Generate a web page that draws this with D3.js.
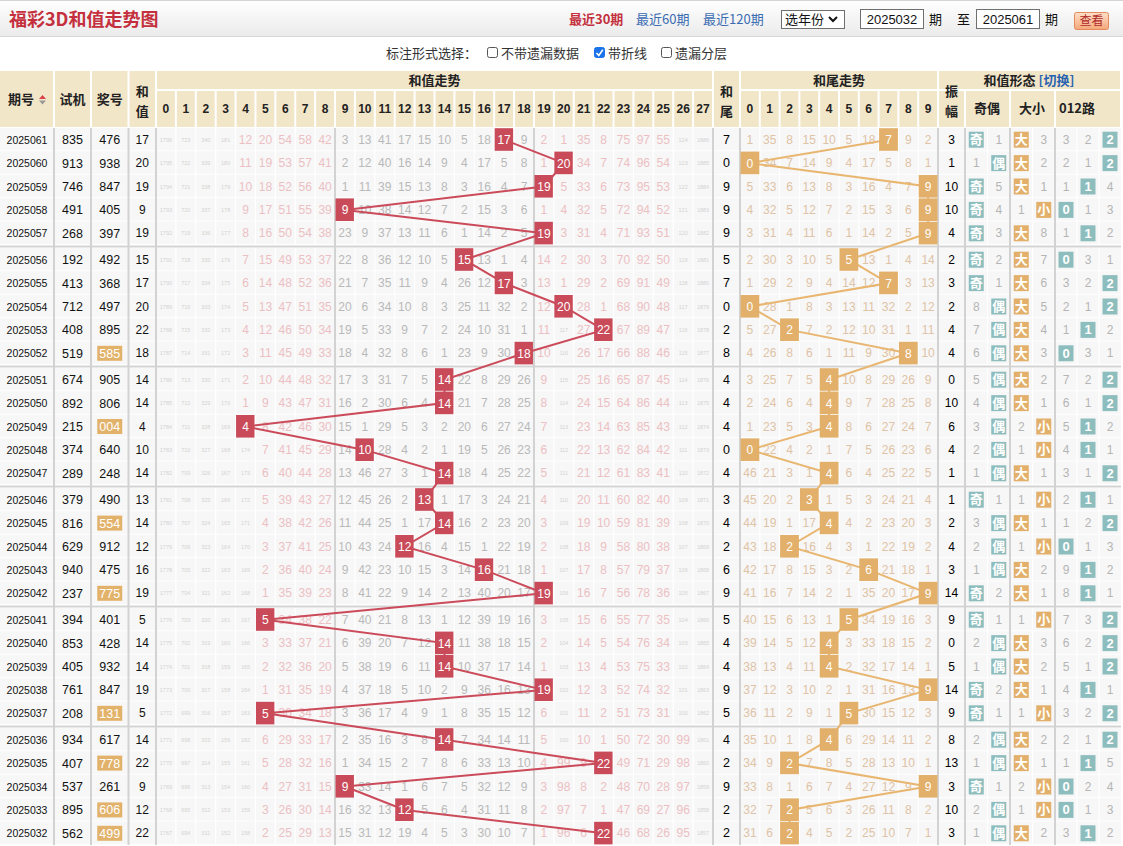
<!DOCTYPE html>
<html><head><meta charset="utf-8">
<script src="https://cdn.jsdelivr.net/npm/d3@7"></script>
<style>body{margin:0;background:#fff}svg{display:block}</style>
</head><body><svg id="c" width="1123" height="846"></svg>
<script>
// ---------------- data ----------------
const periods = ['2025061','2025060','2025059','2025058','2025057','2025056','2025055','2025054','2025053','2025052',
 '2025051','2025050','2025049','2025048','2025047','2025046','2025045','2025044','2025043','2025042',
 '2025041','2025040','2025039','2025038','2025037','2025036','2025035','2025034','2025033','2025032'];
const trialNums = ['835','913','746','491','268','192','413','712','408','519','674','892','215','374','289',
 '379','816','629','940','237','394','853','405','761','208','934','407','537','895','562'];
const drawNums = ['476','938','847','405','397','492','368','497','895','585','905','806','004','640','248',
 '490','554','912','475','775','401','428','932','847','131','617','778','261','606','499'];
const sumValues = [17,20,19,9,19,15,17,20,22,18,14,14,4,10,14,13,14,12,16,19,5,14,14,19,5,14,22,9,12,22];
const tailValues = [7,0,9,9,9,5,7,0,2,8,4,4,4,0,4,3,4,2,6,9,5,4,4,9,5,4,2,9,2,2];
const amplitudes = [3,1,10,10,4,2,3,2,4,4,0,10,6,4,1,1,2,4,3,14,9,0,5,14,9,8,13,3,10,3];
// omission counts shown on the oldest row (2025032)
const sumMissBase = [1767,694,311,152,158,2,25,29,13,15,31,12,19,4,5,3,30,10,7,1,96,6,0,46,68,26,95,1857];
const tailMissBase = [31,6,0,4,5,2,25,10,7,1];
const parityBase = [1,0];
const sizeBase = [0,2];
const modBase = [3,0,2];
const sumTicks = ['0','1','2','3','4','5','6','7','8','9','10','11','12','13','14','15','16','17','18','19','20','21','22','23','24','25','26','27'];
const tailTicks = ['0','1','2','3','4','5','6','7','8','9'];
const parityLabels = ['奇','偶'];
const sizeLabels = ['大','小'];
const modLabels = ['0','1','2'];

// ---------------- helpers ----------------
const W = 1123, H = 846, N = periods.length;
const CJK = "'Noto Sans CJK SC','Noto Sans',sans-serif";
const NUM = "'Liberation Sans',Arial,sans-serif";
const svg = d3.select('#c');

function txt(p, x, y, s, o = {}) {
  return p.append('text').attr('x', x).attr('y', y).text(s)
    .attr('font-family', o.ff || NUM).attr('font-size', o.fs || 12)
    .attr('font-weight', o.fw || 'normal').attr('fill', o.fill || '#111')
    .attr('text-anchor', o.anchor || 'middle');
}

// omission matrix: rows top (newest) -> bottom (oldest)
function omissions(base, hits) {
  const rows = new Array(N);
  rows[N - 1] = base.slice();
  for (let i = N - 2; i >= 0; i--) rows[i] = rows[i + 1].map((v, k) => k === hits[i] ? 0 : v + 1);
  return rows;
}
const sumMiss = omissions(sumMissBase, sumValues);
const tailMiss = omissions(tailMissBase, tailValues);
const parityHit = sumValues.map(s => s % 2 === 1 ? 0 : 1);
const sizeHit = sumValues.map(s => s >= 14 ? 0 : 1);
const modHit = sumValues.map(s => s % 3);
const parityMiss = omissions(parityBase, parityHit);
const sizeMiss = omissions(sizeBase, sizeHit);
const modMiss = omissions(modBase, modHit);

// ---------------- scales ----------------
const rowBand = d3.scaleBand().domain(d3.range(N)).range([128, 128 + N * 23.4]);
const rowTop = i => rowBand(i) + Math.floor(i / 5) * 3;
const rowMid = i => rowTop(i) + rowBand.bandwidth() / 2;
const xSum = d3.scaleBand().domain(sumTicks).range([156, 713]);
const xTail = d3.scaleBand().domain(tailTicks).range([740, 938]);
const xPar = d3.scaleBand().domain(parityLabels).range([965, 1010]);
const xSize = d3.scaleBand().domain(sizeLabels).range([1010, 1055]);
const xMod = d3.scaleBand().domain(modLabels).range([1055, 1121]);
const colFixed = {period: [0, 54], trial: [54, 91], draw: [91, 128.5], sum: [128.5, 156], tail: [713, 740], amp: [938, 965]};
const mid = a => (a[0] + a[1]) / 2;

// ---------------- title bar ----------------
const defs = svg.append('defs');
const tb = defs.append('linearGradient').attr('id', 'tb').attr('x1', 0).attr('y1', 0).attr('x2', 0).attr('y2', 1);
tb.append('stop').attr('offset', '0%').attr('stop-color', '#ffffff');
tb.append('stop').attr('offset', '100%').attr('stop-color', '#ebebeb');
const bt = defs.append('linearGradient').attr('id', 'bt').attr('x1', 0).attr('y1', 0).attr('x2', 0).attr('y2', 1);
bt.append('stop').attr('offset', '0%').attr('stop-color', '#fde0c8');
bt.append('stop').attr('offset', '100%').attr('stop-color', '#f5a77a');
svg.append('rect').attr('x', 0).attr('y', 0).attr('width', W).attr('height', 36).attr('fill', 'url(#tb)');
svg.append('line').attr('x1', 0).attr('x2', W).attr('y1', 0.5).attr('y2', 0.5).attr('stroke', '#d4d4d4');
svg.append('line').attr('x1', 0).attr('x2', W).attr('y1', 36.5).attr('y2', 36.5).attr('stroke', '#d6d6d6');
txt(svg, 9, 26, '福彩3D和值走势图', {ff: CJK, fs: 18, fw: 'bold', fill: '#c4303d', anchor: 'start'});
txt(svg, 569, 24, '最近30期', {ff: CJK, fs: 13, fw: 'bold', fill: '#c4303d', anchor: 'start'});
txt(svg, 636, 24, '最近60期', {ff: CJK, fs: 13, fill: '#3a6cb2', anchor: 'start'});
txt(svg, 703, 24, '最近120期', {ff: CJK, fs: 13, fill: '#3a6cb2', anchor: 'start'});
svg.append('rect').attr('x', 781.5).attr('y', 10.5).attr('width', 63).attr('height', 18).attr('fill', '#fff').attr('stroke', '#6f6f6f');
txt(svg, 785, 24, '选年份', {ff: CJK, fs: 13, anchor: 'start'});
svg.append('path').attr('d', 'M829,17 L833,21 L837,17').attr('fill', 'none').attr('stroke', '#111').attr('stroke-width', 2);
svg.append('rect').attr('x', 860.5).attr('y', 9.5).attr('width', 63).attr('height', 19).attr('fill', '#fff').attr('stroke', '#6f6f6f');
txt(svg, 892, 24, '2025032', {fs: 13});
txt(svg, 929, 24, '期', {ff: CJK, fs: 13, anchor: 'start'});
txt(svg, 957, 24, '至', {ff: CJK, fs: 13, anchor: 'start'});
svg.append('rect').attr('x', 976.5).attr('y', 9.5).attr('width', 63).attr('height', 19).attr('fill', '#fff').attr('stroke', '#6f6f6f');
txt(svg, 1008, 24, '2025061', {fs: 13});
txt(svg, 1045, 24, '期', {ff: CJK, fs: 13, anchor: 'start'});
svg.append('rect').attr('x', 1074.5).attr('y', 12.5).attr('width', 34).attr('height', 17).attr('rx', 2).attr('fill', 'url(#bt)').attr('stroke', '#e48a5c');
txt(svg, 1091.5, 25, '查看', {ff: CJK, fs: 12, fill: '#b02a2a'});

// ---------------- options bar ----------------
txt(svg, 386, 58, '标注形式选择：', {ff: CJK, fs: 13, fill: '#333', anchor: 'start'});
function checkbox(x, checked) {
  svg.append('rect').attr('x', x + 0.5).attr('y', 47.5).attr('width', 10).attr('height', 10).attr('rx', 2)
    .attr('fill', checked ? '#1a73e8' : '#fff').attr('stroke', checked ? '#1a73e8' : '#555');
  if (checked) svg.append('path').attr('d', `M${x + 2.5},53 L${x + 4.8},55.5 L${x + 8.8},49.8`).attr('fill', 'none').attr('stroke', '#fff').attr('stroke-width', 1.6);
}
checkbox(487, false); txt(svg, 501, 58, '不带遗漏数据', {ff: CJK, fs: 13, fill: '#333', anchor: 'start'});
checkbox(594, true); txt(svg, 608, 58, '带折线', {ff: CJK, fs: 13, fill: '#333', anchor: 'start'});
checkbox(661, false); txt(svg, 675, 58, '遗漏分层', {ff: CJK, fs: 13, fill: '#333', anchor: 'start'});

// ---------------- header ----------------
const HB = '#f2e6c9';
const hdr = svg.append('g');
function hcell(x0, x1, y0, y1) {
  hdr.append('rect').attr('x', x0 + 1).attr('y', y0).attr('width', x1 - x0 - 2).attr('height', y1 - y0).attr('fill', HB);
}
const HT = 71, HM = 90, HBm = 127;
hcell(0, colFixed.period[1], HT, HBm); hdr.select('rect').attr('x', 0).attr('width', 53);
hcell(...colFixed.trial, HT, HBm);
hcell(...colFixed.draw, HT, HBm);
hcell(...colFixed.sum, HT, HBm);
hcell(156, 713, HT, HM - 1);
sumTicks.forEach(t => hcell(xSum(t), xSum(t) + xSum.bandwidth(), HM + 1, HBm));
hcell(...colFixed.tail, HT, HBm);
hcell(740, 938, HT, HM - 1);
tailTicks.forEach(t => hcell(xTail(t), xTail(t) + xTail.bandwidth(), HM + 1, HBm));
hcell(938, 1121, HT, HM - 1);
hcell(...colFixed.amp, HM + 1, HBm);
hcell(965, 1010, HM + 1, HBm);
hcell(1010, 1055, HM + 1, HBm);
hcell(1055, 1121, HM + 1, HBm);
const hf = {ff: CJK, fs: 13, fw: 'bold', fill: '#222'};
txt(hdr, 21, 104, '期号', hf);
hdr.append('path').attr('d', 'M39,99 L42.5,95 L46,99 Z').attr('fill', '#d9434e');
hdr.append('path').attr('d', 'M39,100.5 L42.5,104.5 L46,100.5 Z').attr('fill', '#9a9a9a');
txt(hdr, mid(colFixed.trial), 104, '试机', hf);
txt(hdr, mid(colFixed.draw), 104, '奖号', hf);
txt(hdr, mid(colFixed.sum), 96, '和', hf); txt(hdr, mid(colFixed.sum), 116, '值', hf);
txt(hdr, 434.5, 85, '和值走势', hf);
sumTicks.forEach(t => txt(hdr, xSum(t) + xSum.bandwidth() / 2, 113, t, {fs: 12, fw: 'bold', fill: '#222'}));
txt(hdr, mid(colFixed.tail), 96, '和', hf); txt(hdr, mid(colFixed.tail), 116, '尾', hf);
txt(hdr, 839, 85, '和尾走势', hf);
tailTicks.forEach(t => txt(hdr, xTail(t) + xTail.bandwidth() / 2, 113, t, {fs: 12, fw: 'bold', fill: '#222'}));
const ft = txt(hdr, 1029, 85, '', hf);
ft.append('tspan').text('和值形态 ');
ft.append('tspan').text('[切换]').attr('fill', '#2a62b0');
txt(hdr, mid(colFixed.amp), 96, '振', hf); txt(hdr, mid(colFixed.amp), 116, '幅', hf);
txt(hdr, 987, 113, '奇偶', hf);
txt(hdr, 1032, 113, '大小', hf);
txt(hdr, 1077, 113, '012路', hf);

// ---------------- body grid ----------------
const body = svg.append('g');
const bh = rowBand.bandwidth();
d3.range(N).forEach(i => {
  body.append('rect').attr('x', 0).attr('y', rowTop(i)).attr('width', 1121).attr('height', bh).attr('fill', '#f7f7f7');
  body.append('line').attr('x1', 0).attr('x2', 1121).attr('y1', rowTop(i) + bh - 0.5).attr('y2', rowTop(i) + bh - 0.5).attr('stroke', '#fff');
});
const yEnd = rowTop(N - 1) + bh;
const whiteX = [].concat(sumTicks.map(t => xSum(t)), tailTicks.map(t => xTail(t)),
  [xPar('偶'), xSize('小'), xMod('1'), xMod('2')]);
whiteX.forEach(x => body.append('line').attr('x1', x).attr('x2', x).attr('y1', 128).attr('y2', yEnd).attr('stroke', '#fff').attr('stroke-width', 1.2));
for (let g = 1; g < 6; g++) {
  const y = rowTop(g * 5);
  body.append('rect').attr('x', 0).attr('y', y - 3).attr('width', 1121).attr('height', 3).attr('fill', '#fff');
  body.append('line').attr('x1', 0).attr('x2', 1121).attr('y1', y - 1.5).attr('y2', y - 1.5).attr('stroke', '#d4d4d4').attr('stroke-width', 2);
}
const sepX = [54, 91, 128.5, 156, xSum('9'), xSum('19'), 713, 740, 938, 965, 1010, 1055];
sepX.forEach(x => body.append('line').attr('x1', x).attr('x2', x).attr('y1', 128).attr('y2', yEnd).attr('stroke', '#d2d2d2').attr('stroke-width', 2));

// ---------------- fixed columns ----------------
const PINK = '#ecc0c3', GREY = '#b9b9b9', TAN = '#dfc3a6';
d3.range(N).forEach(i => {
  const y = rowMid(i) + 4;
  txt(body, mid(colFixed.period), y, periods[i], {fs: 10.5});
  txt(body, mid(colFixed.trial), y + 0.5, trialNums[i], {fs: 12.5});
  const d = drawNums[i];
  const pair = new Set(d.split('')).size < 3;
  if (pair) body.append('rect').attr('x', mid(colFixed.draw) - 12.5).attr('y', rowMid(i) - 7.5).attr('width', 25).attr('height', 15).attr('fill', '#e2b26b');
  txt(body, mid(colFixed.draw), y + 0.5, d, {fs: 12.5, fill: pair ? '#fff' : '#111'});
  txt(body, mid(colFixed.sum), y, String(sumValues[i]), {fs: 12});
  txt(body, mid(colFixed.tail), y, String(tailValues[i]), {fs: 12.5, fill: '#000'});
  txt(body, mid(colFixed.amp), y, String(amplitudes[i]), {fs: 12, fill: '#000'});
});

// ---------------- omission numbers ----------------
function missText(x, i, v, color) {
  if (v >= 100) txt(body, x, rowMid(i) + 2, String(v), {fs: 5.5, fill: '#d3d3d3'});
  else txt(body, x, rowMid(i) + 4, String(v), {fs: 12, fill: color});
}
d3.range(N).forEach(i => {
  sumTicks.forEach((t, c) => {
    if (c === sumValues[i]) return;
    const col = (c <= 8 || c >= 19) ? PINK : GREY;
    missText(xSum(t) + xSum.bandwidth() / 2, i, sumMiss[i][c], col);
  });
  tailTicks.forEach((t, c) => {
    if (c === tailValues[i]) return;
    missText(xTail(t) + xTail.bandwidth() / 2, i, tailMiss[i][c], TAN);
  });
});

// ---------------- trend lines ----------------
const sumLine = d3.line().x(i => xSum(String(sumValues[i])) + xSum.bandwidth() / 2).y(rowMid);
body.append('path').attr('d', sumLine(d3.range(N))).attr('fill', 'none').attr('stroke', '#cb4b5b').attr('stroke-width', 2);
const tailLine = d3.line().x(i => xTail(String(tailValues[i])) + xTail.bandwidth() / 2).y(rowMid);
body.append('path').attr('d', tailLine(d3.range(N))).attr('fill', 'none').attr('stroke', '#e8b670').attr('stroke-width', 2);

// ---------------- hit boxes ----------------
d3.range(N).forEach(i => {
  const xs = xSum(String(sumValues[i]));
  body.append('rect').attr('x', xs + 0.5).attr('y', rowTop(i) + 0.2).attr('width', xSum.bandwidth() - 1.5).attr('height', bh - 0.8).attr('fill', '#c94b59');
  txt(body, xs + xSum.bandwidth() / 2, rowMid(i) + 4.5, String(sumValues[i]), {fs: 12, fill: '#fff'});
  const xt = xTail(String(tailValues[i]));
  body.append('rect').attr('x', xt + 0.5).attr('y', rowTop(i) + 0.2).attr('width', xTail.bandwidth() - 1).attr('height', bh - 0.8).attr('fill', '#e2b06a');
  txt(body, xt + xTail.bandwidth() / 2, rowMid(i) + 4.5, String(tailValues[i]), {fs: 12, fill: '#fff'});
});

// ---------------- form columns ----------------
const TEAL = '#8ebdbe', GOLD = '#e2b06a';
function formGroup(scale, labels, hits, miss, color, isDigit) {
  d3.range(N).forEach(i => {
    labels.forEach((lab, k) => {
      const cx = scale(lab) + scale.bandwidth() / 2;
      if (k === hits[i]) {
        body.append('rect').attr('x', cx - 7.5).attr('y', rowMid(i) - 8).attr('width', 15).attr('height', 16).attr('fill', color);
        txt(body, cx, rowMid(i) + 4.5, lab, isDigit ? {fs: 13, fw: 'bold', fill: '#fff'} : {ff: CJK, fs: 13, fw: 'bold', fill: '#fff'});
      } else {
        txt(body, cx, rowMid(i) + 4, String(miss[i][k]), {fs: 12, fill: '#b5b5b5'});
      }
    });
  });
}
formGroup(xPar, parityLabels, parityHit, parityMiss, TEAL, false);
formGroup(xSize, sizeLabels, sizeHit, sizeMiss, GOLD, false);
formGroup(xMod, modLabels, modHit, modMiss, TEAL, true);
</script>
</body></html>
